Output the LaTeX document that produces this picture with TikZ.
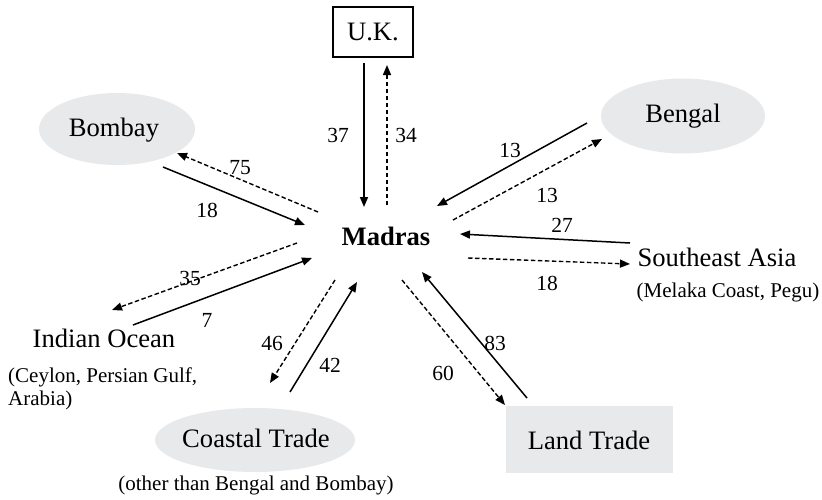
\documentclass[tikz,border=0pt]{standalone}
\usepackage{fontspec}
\setmainfont{Liberation Serif}
\usetikzlibrary{shapes.geometric,arrows.meta}
\definecolor{bgray}{HTML}{E8E9EB}
\tikzset{
  big/.style={font=\fontsize{26.6}{30}\selectfont, inner sep=0pt},
  small/.style={font=\fontsize{21}{23}\selectfont, inner sep=0pt},
  num/.style={font=\fontsize{21.5}{24}\selectfont, inner sep=0pt},
  oval/.style={ellipse, fill=bgray, inner sep=0pt},
  flow/.style={line width=1.5pt, -{Triangle[length=10pt,width=8pt]}},
  back/.style={flow, dash pattern=on 4.5pt off 2.5pt, line width=1.4pt},
}
\begin{document}
\begin{tikzpicture}[x=1pt,y=-1pt]
\useasboundingbox (0,0) rectangle (822,499);
% nodes
\node[big, draw, line width=1.2pt, minimum width=80pt, minimum height=50pt] (uk) at (373,32) {U.K.};
\node[big, font=\fontsize{26.6}{30}\selectfont\bfseries] (madras) at (386,236) {Madras};
\node[oval, minimum width=156pt, minimum height=72pt] (bombay) at (117,129) {};
\node[big] (bombayt) at (114,130) {Bombay};
\node[oval, minimum width=164pt, minimum height=75pt] (bengal) at (683,116) {};
\node[big] (bengalt) at (683,116) {Bengal};
\node[big] (sea) at (717,257) {Southeast Asia};
\node[small] (seasub) at (728,292) {(Melaka Coast, Pegu)};
\node[big] (io) at (104,338) {Indian Ocean};
\node[small, align=left, anchor=west] (iosub) at (8,389) {(Ceylon, Persian Gulf,\\Arabia)};
\node[oval, minimum width=200pt, minimum height=64pt] (coastal) at (255,440) {};
\node[big] (coastalt) at (256,438) {Coastal Trade};
\node[small] (coastalsub) at (256,485) {(other than Bengal and Bombay)};
\node[fill=bgray, minimum width=167pt, minimum height=67pt, inner sep=0pt] (land) at (589.5,439.5) {};
\node[big] (landt) at (589,440) {Land Trade};
% arrow end points
\coordinate (a37s) at (364,63);  \coordinate (a37e) at (364,207);
\coordinate (a34s) at (387,205); \coordinate (a34e) at (387,65);
\coordinate (a75s) at (318,212); \coordinate (a75e) at (177,153);
\coordinate (a18s) at (163,167); \coordinate (a18e) at (305,225);
\coordinate (b13s) at (587,123); \coordinate (b13e) at (437,206);
\coordinate (c13s) at (453,220); \coordinate (c13e) at (602,139);
\coordinate (a27s) at (630,243); \coordinate (a27e) at (460,234);
\coordinate (b18s) at (468,258); \coordinate (b18e) at (630,264);
\coordinate (a35s) at (297,243); \coordinate (a35e) at (112,310);
\coordinate (a7s) at (133,325);  \coordinate (a7e) at (312,258);
\coordinate (a46s) at (335,280); \coordinate (a46e) at (270,383);
\coordinate (a42s) at (290,392); \coordinate (a42e) at (357,282);
\coordinate (a60s) at (402,280); \coordinate (a60e) at (505,405);
\coordinate (a83s) at (527,398); \coordinate (a83e) at (422,272);
% connectors
\draw[flow] (a37s) -- (a37e);
\draw[back] (a34s) -- (a34e);
\draw[back] (a75s) -- (a75e);
\draw[flow] (a18s) -- (a18e);
\draw[flow] (b13s) -- (b13e);
\draw[back] (c13s) -- (c13e);
\draw[flow] (a27s) -- (a27e);
\draw[back] (b18s) -- (b18e);
\draw[back] (a35s) -- (a35e);
\draw[flow] (a7s) -- (a7e);
\draw[back] (a46s) -- (a46e);
\draw[flow] (a42s) -- (a42e);
\draw[back] (a60s) -- (a60e);
\draw[flow] (a83s) -- (a83e);
% labels
\node[num] (l37) at (338,135) {37};
\node[num] (l34) at (406,135) {34};
\node[num] (l75) at (240,168) {75};
\node[num] (l18a) at (207,210) {18};
\node[num] (l13a) at (510,150) {13};
\node[num] (l13b) at (547,195) {13};
\node[num] (l27) at (562,225) {27};
\node[num] (l18b) at (547,283) {18};
\node[num] (l35) at (190,278) {35};
\node[num] (l7) at (207,320) {7};
\node[num] (l46) at (272,343) {46};
\node[num] (l42) at (330,365) {42};
\node[num] (l60) at (443,373) {60};
\node[num] (l83) at (495,343) {83};
\end{tikzpicture}
\end{document}
